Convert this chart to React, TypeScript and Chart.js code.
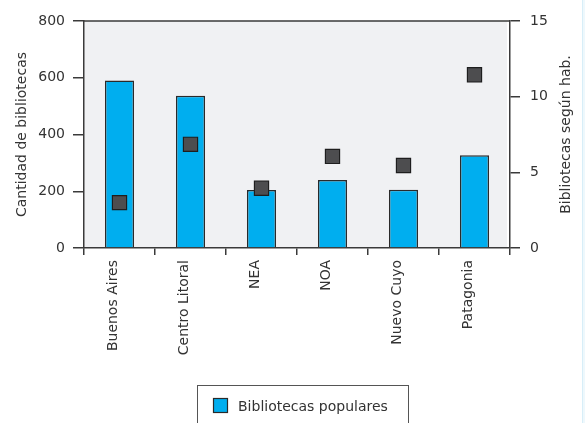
import React, { useEffect, useRef } from "react";
import { Chart, registerables } from "chart.js";

Chart.register(...registerables);

const categories = ["Buenos Aires", "Centro Litoral", "NEA", "NOA", "Nuevo Cuyo", "Patagonia"];
const bibliotecas = [590, 537, 204, 240, 205, 327];
const porHabitante = [3.0, 6.85, 3.95, 6.05, 5.45, 11.45];

const leftTicks = [0, 200, 400, 600, 800];
const rightTicks = [0, 5, 10, 15];

const leftTitle = "Cantidad de bibliotecas";
const rightTitle = "Bibliotecas según hab.";
const legendLabel = "Bibliotecas populares";

const FONT = "DejaVu Sans";
const TEXT = "#333333";
const LINE = "#3a3a3a";
const BAR = "#00aeef";
const MARKER = "#4d4d4f";

const framePlugin = {
  id: "frame",
  beforeDraw(chart: any) {
    const { ctx, chartArea } = chart;
    ctx.save();
    ctx.fillStyle = "#f0f1f3";
    ctx.fillRect(chartArea.left, chartArea.top, chartArea.right - chartArea.left - 3, chartArea.bottom - chartArea.top);
    ctx.restore();
  },
  afterDraw(chart: any) {
    const { ctx, chartArea } = chart;
    ctx.save();
    // top edge of the plot frame
    ctx.strokeStyle = LINE;
    ctx.lineWidth = 1.5;
    ctx.beginPath();
    ctx.moveTo(chartArea.left, chartArea.top);
    ctx.lineTo(chartArea.right, chartArea.top);
    ctx.stroke();

    // axis titles, both reading bottom to top
    const midY = (chartArea.top + chartArea.bottom) / 2;
    ctx.fillStyle = TEXT;
    ctx.font = `14px "${FONT}"`;
    ctx.textAlign = "center";
    ctx.textBaseline = "alphabetic";
    ctx.save();
    ctx.translate(26, midY);
    ctx.rotate(-Math.PI / 2);
    ctx.fillText(leftTitle, 0, 0);
    ctx.restore();
    ctx.save();
    ctx.translate(570, midY);
    ctx.rotate(-Math.PI / 2);
    ctx.fillText(rightTitle, 0, 0);
    ctx.restore();

    // legend box
    ctx.strokeStyle = "#555555";
    ctx.lineWidth = 1;
    ctx.strokeRect(197.5, 385.5, 211, 50);
    ctx.fillStyle = BAR;
    ctx.fillRect(213, 398, 15, 15);
    ctx.strokeStyle = "#2a2a2a";
    ctx.lineWidth = 1.2;
    ctx.strokeRect(213.5, 398.5, 14, 14);
    ctx.fillStyle = TEXT;
    ctx.textAlign = "left";
    ctx.fillText(legendLabel, 238, 411);
    ctx.restore();
  },
};

export default function App() {
  const ref = useRef<HTMLCanvasElement>(null);

  useEffect(() => {
    if (!ref.current) return;
    const chart = new Chart(ref.current, {
      type: "bar",
      data: {
        labels: categories,
        datasets: [
          {
            type: "line",
            label: "Bibliotecas según hab.",
            data: porHabitante,
            yAxisID: "y1",
            showLine: false,
            pointStyle: "rect",
            pointRadius: 10,
            pointHoverRadius: 10,
            backgroundColor: MARKER,
            borderColor: "#1e1e1e",
            borderWidth: 1.2,
            order: 0,
          } as any,
          {
            type: "bar",
            label: legendLabel,
            data: bibliotecas,
            yAxisID: "y",
            backgroundColor: BAR,
            borderColor: "#2a2a2a",
            borderWidth: 1.5,
            categoryPercentage: 1,
            barPercentage: 0.41,
            order: 1,
          },
        ],
      },
      options: {
        responsive: false,
        animation: false,
        layout: { padding: { top: 21, left: 0, right: 0, bottom: 0 } },
        plugins: {
          legend: { display: false },
          tooltip: { enabled: false },
        },
        scales: {
          x: {
            grid: { drawOnChartArea: false, drawTicks: true, tickLength: 7, color: LINE, lineWidth: 1.5, offset: true },
            border: { display: true, color: LINE, width: 1.5 },
            ticks: {
              color: TEXT,
              font: { family: FONT, size: 14 },
              minRotation: 90,
              maxRotation: 90,
              padding: 5,
              labelOffset: -6,
              autoSkip: false,
            },
            afterFit(scale: any) {
              scale.height = 175;
            },
          },
          y: {
            position: "left",
            min: 0,
            max: 800,
            afterBuildTicks(scale: any) {
              scale.ticks = leftTicks.map((v) => ({ value: v }));
            },
            grid: { drawOnChartArea: false, drawTicks: true, tickLength: 11, color: LINE, lineWidth: 1.5 },
            border: { display: true, color: LINE, width: 1.5 },
            ticks: { color: TEXT, font: { family: FONT, size: 14 }, padding: 8 },
            afterFit(scale: any) {
              scale.width = 84;
            },
          },
          y1: {
            position: "right",
            min: 0,
            max: 15,
            afterBuildTicks(scale: any) {
              scale.ticks = rightTicks.map((v) => ({ value: v }));
            },
            grid: { drawOnChartArea: false, drawTicks: true, tickLength: 10, color: LINE, lineWidth: 1.5 },
            border: { display: true, color: LINE, width: 1.5 },
            ticks: { color: TEXT, font: { family: FONT, size: 14 }, padding: 10 },
            afterFit(scale: any) {
              scale.width = 75;
            },
          },
        },
      },
      plugins: [framePlugin],
    });
    return () => chart.destroy();
  }, []);

  return (
    <div style={{ position: "fixed", left: 0, top: 0, width: 585, height: 423, background: "#ffffff" }}>
      <canvas ref={ref} width={585} height={423} style={{ display: "block" }} />
      <div
        style={{
          position: "absolute",
          left: 582,
          top: 0,
          width: 3,
          height: 423,
          background: "#eef8fc",
          borderLeft: "1px solid #d8eef8",
          boxSizing: "border-box",
        }}
      />
    </div>
  );
}
